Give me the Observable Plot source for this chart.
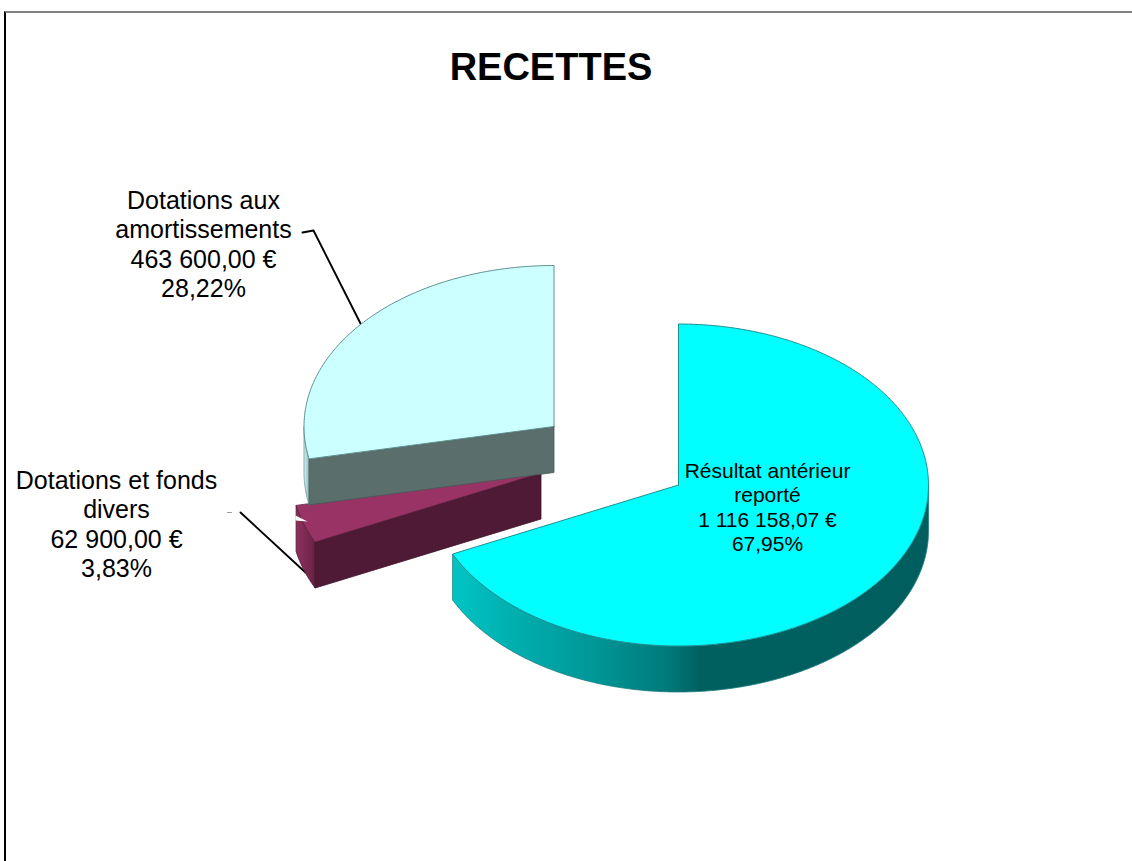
<!DOCTYPE html>
<html lang="fr">
<head>
<meta charset="utf-8">
<title>RECETTES</title>
<script src="https://cdn.jsdelivr.net/npm/d3@7"></script>
<script src="https://cdn.jsdelivr.net/npm/@observablehq/plot@0.6"></script>
<style>
  html, body { margin: 0; padding: 0; background: #fff; overflow: hidden; }
  #page { position: relative; width: 1132px; height: 861px; overflow: hidden; font-family: "Liberation Sans", Arial, sans-serif; }
  h1 { margin: 0; height: 100px; padding-top: 45px; box-sizing: border-box; text-align: center; width: 1102px; font-size: 38px; line-height: 44px; font-weight: bold; color: #000; }
  #frame { position: absolute; left: 4px; top: 11px; right: -4px; bottom: -4px; border-left: 2px solid #000; border-top: 2px solid #808080; pointer-events: none; }
  svg { display: block; }
</style>
</head>
<body>
<div id="page">
  <h1>RECETTES</h1>
  <div id="chart"></div>
  <div id="frame"></div>
</div>
<script>
// ---- data ----
const categories = ["Résultat antérieur\nreporté", "Dotations et fonds\ndivers", "Dotations aux\namortissements"];
const amounts = [1116158.07, 62900.00, 463600.00];
const percents = ["67,95%", "3,83%", "28,22%"];

// ---- layout ----
const W = 1132, H = 861, top0 = 100;
const rx = 250, ry = 161, depth = 46;
const centers = [[678, 484.5], [540.5, 472.5], [553.5, 426]];
const labelPos = [[767, 506, 21, 1.17], [116, 523, 25, 1.18], [203, 243, 25, 1.18]];
const leaderA = [[302, 232], [313, 230], [360, 323]];
const leaderB = [[240, 512], [305, 572]];
const leaderTick = [[227, 512], [231, 512]];
const notch = [[295, 515], [307, 521], [295, 520], [295, 515]];

// ---- geometry derived from the values ----
const total = d3.sum(amounts);
const fr = d3.formatLocale({decimal: ",", thousands: " ", grouping: [3], currency: ["", " €"]});
const money = fr.format(",.2f");
let acc = 0;
const slices = amounts.map((v, i) => {
  const a0 = acc / total * 2 * Math.PI;
  acc += v;
  return {i, a0, a1: acc / total * 2 * Math.PI, c: centers[i]};
});
const pt = (s, a, dz = 0) => [s.c[0] + rx * Math.sin(a), s.c[1] - ry * Math.cos(a) + dz];
const arc = (s, a0, a1, dz = 0) => {
  const n = Math.max(2, Math.ceil(Math.abs(a1 - a0) / 0.01));
  return d3.range(n + 1).map(k => pt(s, a0 + (a1 - a0) * k / n, dz));
};
const topFace = s => [s.c, ...arc(s, s.a0, s.a1), s.c];
const wall = (s, a0, a1) => {
  const t = arc(s, a0, a1), b = arc(s, a0, a1, depth).reverse();
  return [...t, ...b, t[0]];
};
const cut = (s, a) => {
  const e = pt(s, a);
  return [s.c, e, [e[0], e[1] + depth], [s.c[0], s.c[1] + depth], s.c];
};
const [s1, s2, s3] = slices;
const X = d => d[0], Y = d => d[1];
const poly = (pts, fill, stroke, strokeWidth = 1) =>
  Plot.line(pts, {x: X, y: Y, fill, stroke, strokeWidth, curve: "linear"});

const labels = slices.map(s => ({
  text: `${categories[s.i]}\n${money(amounts[s.i])} €\n${percents[s.i]}`,
  x: labelPos[s.i][0], y: labelPos[s.i][1], size: labelPos[s.i][2], lh: labelPos[s.i][3]
}));

const gradient = (id, stops) => `<linearGradient id="${id}" x1="0" x2="1" y1="0" y2="0">` +
  stops.map(([o, c]) => `<stop offset="${o}" stop-color="${c}"/>`).join("") + `</linearGradient>`;
const defs = () => {
  const g = document.createElementNS("http://www.w3.org/2000/svg", "g");
  g.innerHTML = `<defs>` +
    gradient("wallCyan", [[0, "#00c4c4"], [0.12, "#00b0b0"], [0.3, "#009696"], [0.45, "#007a7a"], [0.52, "#006060"], [1, "#005e5e"]]) +
    gradient("wallMagenta", [[0, "#8f3060"], [1, "#6a2244"]]) +
    gradient("wallPale", [[0, "#d6f2f2"], [1, "#8fb8b8"]]) +
    `</defs>`;
  return g;
};

const plot = Plot.plot({
  width: W, height: H - top0,
  marginTop: 0, marginRight: 0, marginBottom: 0, marginLeft: 0,
  x: {domain: [0, W], range: [0, W], axis: null},
  y: {domain: [top0, H], range: [0, H - top0], axis: null},
  style: {background: "transparent", fontFamily: "'Liberation Sans', Arial, sans-serif", overflow: "visible"},
  marks: [
    defs,
    // leaders behind the slices
    Plot.line(leaderA, {x: X, y: Y, stroke: "#000", strokeWidth: 1.9}),
    Plot.line(leaderB, {x: X, y: Y, stroke: "#000", strokeWidth: 1.9}),
    Plot.line(leaderTick, {x: X, y: Y, stroke: "#999", strokeWidth: 1}),
    // small slice (behind the pale one)
    poly(wall(s2, s2.a0, s2.a1), "url(#wallMagenta)", "#4d1830", 0.8),
    poly(cut(s2, s2.a0), "#4f1a35", "#3f1229", 0.8),
    poly(topFace(s2), "#993366", "#5a1f3d", 0.8),
    poly(notch, "#fff", "none"),
    // pale slice
    poly(wall(s3, s3.a0, 1.5 * Math.PI), "url(#wallPale)", "#6f9a9a", 0.8),
    poly(cut(s3, s3.a0), "#5a6e6c", "#465958", 0.8),
    poly(topFace(s3), "#ccffff", "#5f8f8f", 1),
    // large slice
    poly(wall(s1, Math.PI / 2, s1.a1), "url(#wallCyan)", "#1e7f7f", 0.8),
    poly(topFace(s1), "#00ffff", "#1e8f8f", 1),
    // labels
    Plot.text(labels.filter(d => d.size === 25), {x: "x", y: "y", text: "text", fontSize: 25, lineHeight: 1.18, lineAnchor: "middle", fill: "#000"}),
    Plot.text(labels.filter(d => d.size === 21), {x: "x", y: "y", text: "text", fontSize: 21, lineHeight: 1.17, lineAnchor: "middle", fill: "#000"})
  ]
});
document.getElementById("chart").append(plot);
</script>
</body>
</html>
